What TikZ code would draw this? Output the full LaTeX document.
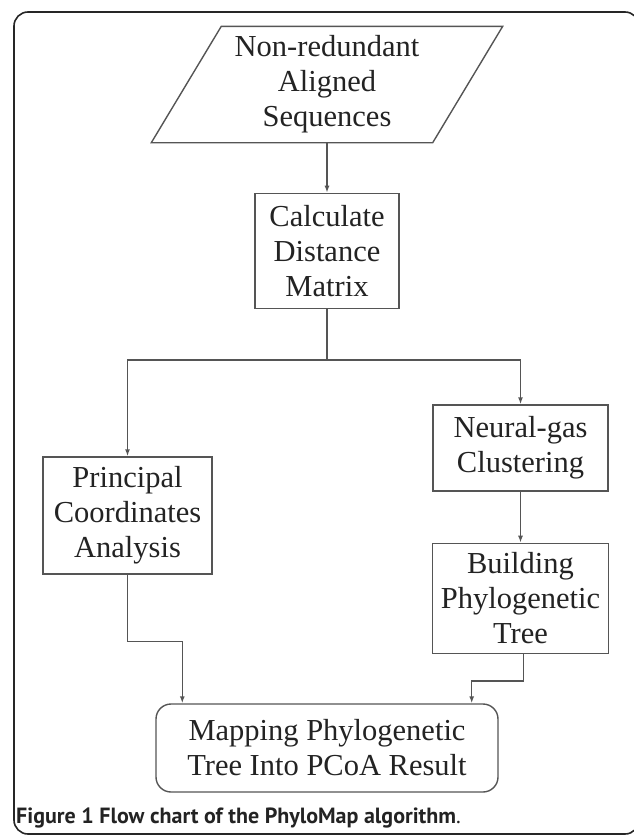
\documentclass[tikz,border=0pt]{standalone}
\usepackage{fontspec}
\setmainfont{Liberation Serif}
\newfontfamily\capfont{PT Sans}
\usetikzlibrary{positioning,arrows.meta}
\definecolor{linegray}{HTML}{555555}
\definecolor{textgray}{HTML}{232323}
\tikzset{
  box/.style={draw=linegray,line width=1.4pt,inner sep=0pt,align=center,text=textgray,
    font=\fontsize{30.5}{35}\selectfont},
  ln/.style={draw=linegray,line width=1.4pt},
  arr/.style={ln,-{Latex[length=7pt,width=5pt]}}
}
\begin{document}
\begin{tikzpicture}[x=1pt,y=-1pt]
                \useasboundingbox (0,0) rectangle (633,836);
                \draw[line width=1.6pt,draw=black!85,rounded corners=14pt] (14,12) rectangle (639,834);
                \node[box,draw=none,minimum width=280pt,minimum height=115pt](seq) at (327,84.5){Non-redundant\\Aligned\\Sequences};
                \draw[ln] ([xshift=35pt]seq.north west) -- ([xshift=35pt]seq.north east)
                       -- ([xshift=-35pt]seq.south east) -- ([xshift=-35pt]seq.south west) -- cycle;
                \node[box,minimum width=144pt,minimum height=115pt](calc)[below =50pt of seq]{Calculate\\Distance\\Matrix};
                \node[box,minimum width=169pt,minimum height=117pt](pcoa) at (127.5,515.5){Principal\\Coordinates\\Analysis};
                \node[box,minimum width=175pt,minimum height=86pt](gas) at (520.5,448){Neural-gas\\Clustering};
                \node[box,minimum width=176pt,minimum height=110pt](tree)[below =51pt of gas]{Building\\Phylogenetic\\Tree};
                \node[box,rounded corners=15pt,minimum width=342pt,minimum height=88pt](map) at (327,748){Mapping Phylogenetic\\Tree Into PCoA Result};
                \node[anchor=west,inner sep=0pt,text=textgray,font=\capfont\bfseries\fontsize{22}{26}\selectfont](cap) at (16,818)
                    {Figure 1 Flow chart of the PhyloMap algorithm\textmd{.}};
                \coordinate (bus) at ([yshift=-51pt]calc.south);
                \path[arr] (seq) edge (calc)
                           (gas) edge (tree);
                \draw[ln] (calc.south) -- (bus);
                \draw[arr] (bus) -| (pcoa.north);
                \draw[arr] (bus) -| (gas.north);
                \draw[arr] (pcoa.south) -- ++(0,67) -| ([xshift=27pt]map.north west);
                \draw[arr] ([xshift=3pt]tree.south) -- ++(0,27) -| ([xshift=-27pt]map.north east);
            \end{tikzpicture}
\end{document}
